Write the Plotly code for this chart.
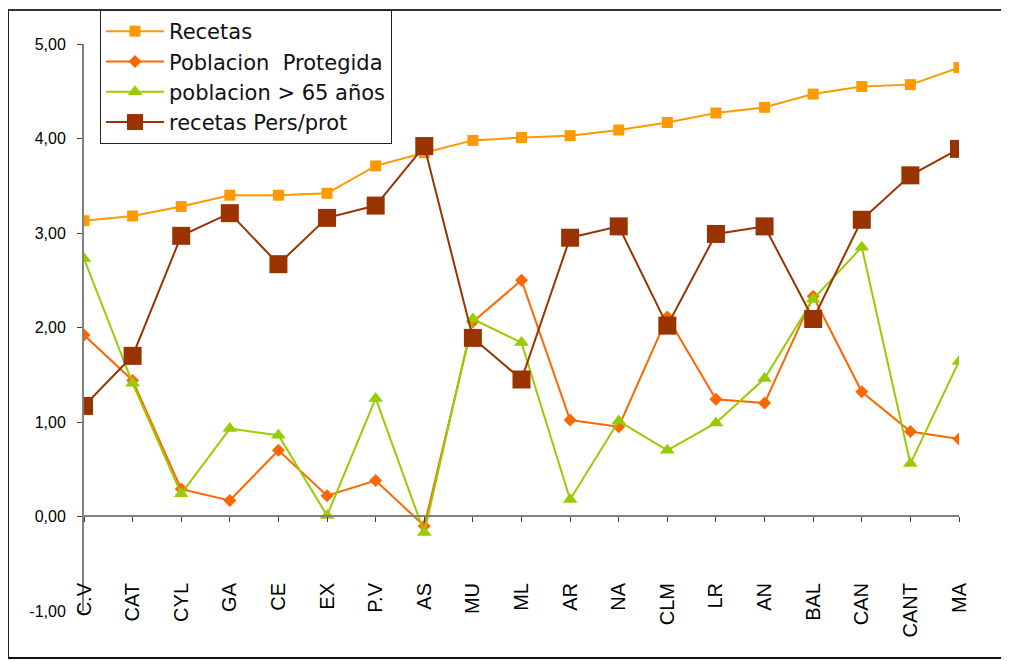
import plotly.graph_objects as go

categories = ["C.V", "CAT", "CYL", "GA", "CE", "EX", "P.V", "AS", "MU", "ML",
              "AR", "NA", "CLM", "LR", "AN", "BAL", "CAN", "CANT", "MA"]

recetas = [3.13, 3.18, 3.28, 3.40, 3.40, 3.42, 3.71, 3.85, 3.98, 4.01,
           4.03, 4.09, 4.17, 4.27, 4.33, 4.47, 4.55, 4.57, 4.75]
poblacion_protegida = [1.92, 1.44, 0.29, 0.17, 0.70, 0.22, 0.38, -0.10, 2.06, 2.50,
                       1.02, 0.95, 2.11, 1.24, 1.20, 2.33, 1.32, 0.90, 0.82]
poblacion_65 = [2.73, 1.41, 0.24, 0.93, 0.86, 0.01, 1.25, -0.17, 2.09, 1.84,
                0.18, 1.01, 0.70, 0.99, 1.46, 2.30, 2.85, 0.56, 1.64]
recetas_pers_prot = [1.17, 1.70, 2.97, 3.21, 2.67, 3.16, 3.29, 3.92, 1.89, 1.45,
                     2.95, 3.07, 2.02, 2.99, 3.07, 2.09, 3.14, 3.61, 3.89]

y_ticks = [-1, 0, 1, 2, 3, 4, 5]
y_tick_text = ["-1,00", "0,00", "1,00", "2,00", "3,00", "4,00", "5,00"]

# page offset (browser body margin)
OFF = 8
# plot area in page pixels
PL, PR, PT, PB = 84, 959, 44, 611
W, H = 1001, 653
L, T = PL - OFF, PT - OFF
R, B = W - (PR - OFF), H - (PB - OFF)
PW, PH = PR - PL, PB - PT


def px_x(p):
    return (p - PL) / PW


def px_y(p):
    return (PB - p) / PH


fig = go.Figure()

series = [
    ("Recetas", recetas, "#FF9900", "square", 11),
    ("Poblacion\u00a0\u00a0Protegida", poblacion_protegida, "#FF6600", "diamond", 10),
    ("poblacion > 65 años", poblacion_65, "#99CC00", "triangle-up", 13),
    ("recetas Pers/prot", recetas_pers_prot, "#993300", "square", 18),
]
for i, (name, vals, col, sym, sz) in enumerate(series):
    fig.add_trace(go.Scatter(
        x=categories, y=vals, name=name, mode="lines+markers",
        line=dict(color=col, width=2),
        marker=dict(color=col, symbol=sym, size=sz),
        legendgroup="g%d" % i,
    ))

# invisible trace to carry the tick-label axis
fig.add_trace(go.Scatter(
    x=categories, y=recetas, xaxis="x2", mode="markers",
    marker=dict(opacity=0), showlegend=False, hoverinfo="skip",
))

fig.update_layout(
    width=W, height=H,
    margin=dict(l=L, r=R, t=T, b=B, autoexpand=False),
    paper_bgcolor="white", plot_bgcolor="white",
    font=dict(family="Liberation Sans, Arial, sans-serif", color="black"),
    showlegend=True,
    legend=dict(
        x=px_x(100), y=px_y(10), xanchor="left", yanchor="top",
        bgcolor="white", bordercolor="#222222", borderwidth=1,
        font=dict(family="DejaVu Sans, Verdana, sans-serif", size=21, color="#111111"),
        itemwidth=58, tracegroupgap=0,
    ),
    xaxis=dict(
        type="category", categoryorder="array", categoryarray=categories,
        range=[0, 18], anchor="free", position=px_y(516),
        showline=True, linecolor="#808080", linewidth=2,
        ticks="outside", ticklen=5, tickcolor="#404040", tickwidth=1,
        showticklabels=False, showgrid=False, zeroline=False,
    ),
    xaxis2=dict(
        type="category", categoryorder="array", categoryarray=categories,
        range=[0, 18], overlaying="x", anchor="free", position=px_y(578),
        showline=False, ticks="", showgrid=False, zeroline=False,
        tickangle=-90, tickfont=dict(size=20, family="Liberation Sans, Arial, sans-serif"),
    ),
    yaxis=dict(
        range=[-1, 5], tickmode="array", tickvals=y_ticks, ticktext=y_tick_text,
        showline=True, linecolor="#808080", linewidth=2,
        ticks="outside", ticklen=5, tickcolor="#404040", tickwidth=1,
        showgrid=False, zeroline=False, ticklabelstandoff=8,
        tickfont=dict(size=16, family="Liberation Sans, Arial, sans-serif"),
    ),
    shapes=[
        dict(type="line", xref="paper", yref="paper", x0=px_x(8), x1=px_x(1015),
             y0=px_y(10), y1=px_y(10), line=dict(color="#333333", width=2)),
        dict(type="line", xref="paper", yref="paper", x0=px_x(8), x1=px_x(1015),
             y0=px_y(658), y1=px_y(658), line=dict(color="#111111", width=2)),
        dict(type="line", xref="paper", yref="paper", x0=px_x(8), x1=px_x(8),
             y0=px_y(10), y1=px_y(658), line=dict(color="#222222", width=2)),
    ],
)

fig.write_html("out.html")
